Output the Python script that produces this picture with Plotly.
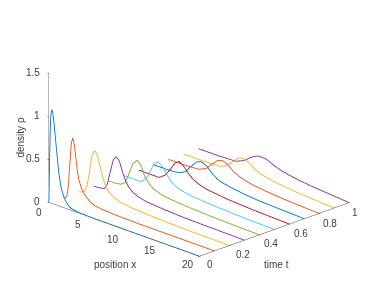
import plotly.graph_objects as go

times = [0, 0.1, 0.2, 0.3, 0.4, 0.5, 0.6, 0.7, 0.8, 0.9, 1.0]
colors = ["#0072BD", "#D95319", "#EDB120", "#7E2F8E", "#77AC30", "#4DBEEE", "#A2142F",
          "#0072BD", "#D95319", "#EDB120", "#7E2F8E"]

x_00 = [0, .1, .2, .3, .4, .5, .7, 1, 1.3, 1.6, 2, 2.5, 3, 4, 6, 10, 20]
r_00 = [0, .5, .9, 1.05, 1.09, 1.07, .93, .66, .4, .23, .12, .05, .02, .005, 0, 0, 0]
x_01 = [0, .2, .4, .6, .8, 1, 1.2, 1.4, 1.6, 1.8, 2, 2.4, 2.8, 3.4, 4, 5, 7, 10, 20]
r_01 = [0, 0, .02, .15, .42, .66, .72, .65, .5, .36, .26, .16, .11, .06, .03, .015, .005, 0, 0]
x_02 = [0, .4, .8, 1.1, 1.4, 1.7, 2, 2.2, 2.5, 2.8, 3.2, 3.6, 4, 4.6, 5.5, 7, 10, 14, 20]
r_02 = [0, .005, .03, .1, .26, .45, .53, .54, .49, .39, .26, .17, .12, .08, .05, .03, .015, .005, 0]
x_03 = [0, .7, 1.4, 1.8, 2.2, 2.6, 3, 3.4, 3.8, 4.2, 4.6, 5.2, 6, 7, 9, 12, 16, 20]
r_03 = [0, .005, .015, .08, .24, .39, .435, .4, .29, .2, .14, .09, .06, .04, .025, .01, .005, 0]
x_04 = [0, .8, 1.6, 2.2, 2.7, 3.2, 3.8, 4.3, 4.8, 5.4, 6, 7, 8, 10, 13, 17, 20]
r_04 = [0, 0, .01, .05, .17, .3, .36, .31, .2, .13, .09, .06, .045, .03, .015, .005, 0]
x_05 = [0, 1, 2.3, 3, 3.5, 4, 4.6, 5.2, 5.8, 6.4, 7, 8, 9, 11, 14, 17, 20]
r_05 = [0, 0, 0, .06, .15, .26, .3, .26, .18, .12, .085, .06, .045, .03, .015, .005, 0]
x_06 = [0, 1.4, 2.7, 3.5, 4.2, 4.8, 5.4, 6, 6.7, 7.4, 8.2, 9, 10, 12, 15, 20]
r_06 = [0, 0, 0, .05, .14, .23, .27, .23, .16, .11, .08, .06, .05, .03, .015, 0]
x_07 = [0, 1.6, 3.3, 4.2, 5, 5.7, 6.3, 7, 7.8, 8.6, 9.5, 10.5, 12, 14, 17, 20]
r_07 = [0, 0, .01, .05, .14, .21, .235, .21, .14, .09, .07, .055, .035, .02, .01, 0]
x_08 = [0, 2, 4, 5, 5.8, 6.5, 7.1, 7.8, 8.6, 9.5, 10.5, 11.5, 13, 15, 18, 20]
r_08 = [0, 0, .01, .05, .13, .19, .21, .19, .13, .09, .065, .05, .035, .02, .005, 0]
x_09 = [0, 2.5, 4.9, 5.8, 6.6, 7.2, 7.8, 8.5, 9.3, 10.2, 11.2, 12.5, 14, 16, 18, 20]
r_09 = [0, 0, .01, .05, .12, .18, .195, .18, .13, .09, .07, .05, .035, .02, .01, 0]
x_10 = [0, 2.5, 5, 6, 7, 7.8, 8.4, 9, 10, 11, 12, 13.5, 15, 17, 20]
r_10 = [0, 0, .01, .05, .12, .16, .165, .16, .12, .09, .07, .05, .035, .02, 0]

x_ticks = [0, 5, 10, 15, 20]
t_ticks = [0, .2, .4, .6, .8, 1]
z_ticks = [0, .5, 1, 1.5]

xs = [x_00, x_01, x_02, x_03, x_04, x_05, x_06, x_07, x_08, x_09, x_10]
rs = [r_00, r_01, r_02, r_03, r_04, r_05, r_06, r_07, r_08, r_09, r_10]

fig = go.Figure()
for t, c, xv, rv in zip(times, colors, xs, rs):
    fig.add_trace(go.Scatter3d(x=xv, y=[t] * len(xv), z=rv, mode="lines",
                               line=dict(color=c, width=1.75), showlegend=False,
                               hoverinfo="skip"))

font = dict(family="Liberation Sans, Arial, sans-serif", size=10, color="#404040")
def axis(rng, tv):
    return dict(title=dict(text=""), range=rng, tickvals=tv, showticklabels=False,
                showgrid=False, zeroline=False, showbackground=False, showline=True,
                linecolor="#404040", linewidth=1, ticks="outside", ticklen=2,
                tickcolor="#404040", showspikes=False)

def note(x, y, z, text, dx, dy, angle=0, anchor="center"):
    return dict(x=x, y=y, z=z, text=text, showarrow=False, xshift=dx, yshift=dy,
                textangle=angle, font=font, xanchor=anchor)

x_off = [(-10, -10), (-9, -9), (-11, -10), (-12, -8), (-12, -8)]
t_off = [(10, -8), (14, -9), (12, -9), (12, -9), (11, -10), (6, -10)]

notes = []
for v, (dx, dy) in zip(x_ticks, x_off):
    notes.append(note(v, 0, 0, f"{v:g}", dx, dy))
for v, (dx, dy) in zip(t_ticks, t_off):
    notes.append(note(20, v, 0, f"{v:g}", dx, dy))
for v in z_ticks:
    notes.append(note(0, 0, v, f"{v:g}", -7, 1, anchor="right"))
notes.append(note(10, 0, 0, "position x", -9, -35))
notes.append(note(20, .5, 0, "time t", 2, -35))
notes.append(note(0, 0, .75, "density ρ", -28, 0, -90))

fig.update_layout(
    width=382, height=286, margin=dict(l=0, r=0, t=0, b=0), paper_bgcolor="white",
    showlegend=False,
    scene=dict(
        domain=dict(x=[0, 1], y=[0, 1]),
        xaxis=axis([0, 20], x_ticks),
        yaxis=axis([0, 1], t_ticks),
        zaxis=axis([0, 1.5], z_ticks),
        aspectmode="manual", aspectratio=dict(x=1.49, y=1.48, z=.967),
        annotations=notes,
        camera=dict(projection=dict(type="orthographic"), up=dict(x=0, y=0, z=1),
                    eye=dict(x=1, y=-1, z=.445), center=dict(x=0, y=0, z=-.098)),
    ),
)
fig.write_html("out.html")
